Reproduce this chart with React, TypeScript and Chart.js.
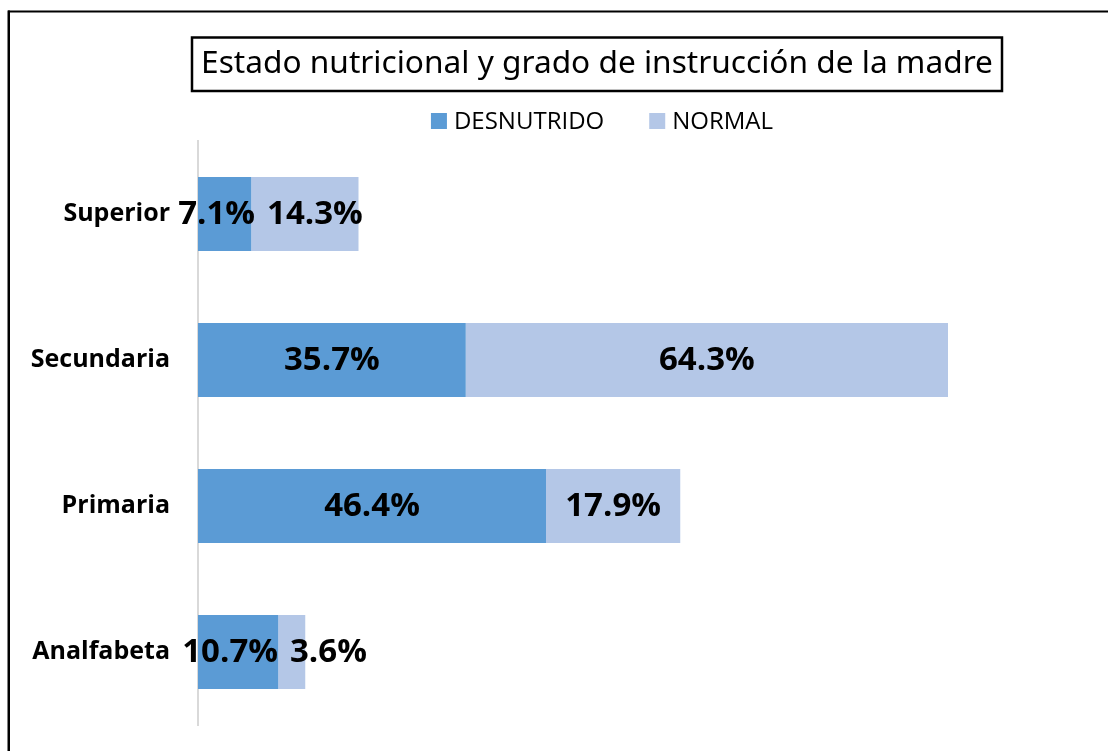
import React, { useEffect, useRef } from "react";
import { Chart, registerables } from "chart.js";

Chart.register(...registerables);

const TITLE = "Estado nutricional y grado de instrucción de la madre";
const CATEGORIES = ["Superior", "Secundaria", "Primaria", "Analfabeta"];
const SERIES_NAMES = ["DESNUTRIDO", "NORMAL"];
const DESNUTRIDO = [7.1, 35.7, 46.4, 10.7];
const NORMAL = [14.3, 64.3, 17.9, 3.6];
const COLORS = ["#5B9BD5", "#B4C7E7"];

const W = 1108;
const H = 751;

const fmt = (v: number) => `${v.toFixed(1)}%`;

const decorPlugin = {
  id: "decor",
  afterDraw(chart: any) {
    const ctx = chart.ctx as CanvasRenderingContext2D;
    ctx.save();
    // outer frame (only left and top edges visible)
    ctx.fillStyle = "#000";
    ctx.fillRect(8, 10.5, W - 8, 2);
    ctx.fillRect(7.5, 10.5, 2.5, H - 10.5);

    // title box
    let size = 30;
    ctx.font = `${size}px "Noto Sans"`;
    const tw = ctx.measureText(TITLE).width;
    size = (size * 792) / tw;
    ctx.font = `${size}px "Noto Sans"`;
    ctx.textAlign = "center";
    ctx.textBaseline = "middle";
    ctx.fillStyle = "#000";
    ctx.fillText(TITLE, 597, 64);
    ctx.lineWidth = 2.5;
    ctx.strokeStyle = "#000";
    ctx.strokeRect(192, 37.5, 810, 53.5);

    // legend
    ctx.font = `24px "Open Sans"`;
    const w1 = ctx.measureText(SERIES_NAMES[0]).width;
    const w2 = ctx.measureText(SERIES_NAMES[1]).width;
    const box = 16;
    const gapText = 7;
    const gapItem = 45;
    const total = box + gapText + w1 + gapItem + box + gapText + w2;
    let x = 602 - total / 2;
    const yc = 121;
    ctx.textAlign = "left";
    ctx.textBaseline = "middle";
    [w1, w2].forEach((w, i) => {
      ctx.fillStyle = COLORS[i];
      ctx.fillRect(x, yc - box / 2, box, box);
      ctx.fillStyle = "#000";
      ctx.fillText(SERIES_NAMES[i], x + box + gapText, yc + 1);
      x += box + gapText + w + gapItem;
    });
    ctx.restore();
  },
  afterDatasetsDraw(chart: any) {
    const ctx = chart.ctx as CanvasRenderingContext2D;
    const m0 = chart.getDatasetMeta(0);
    const m1 = chart.getDatasetMeta(1);
    ctx.save();
    ctx.font = `bold 33px "Open Sans"`;
    ctx.fillStyle = "#000";
    ctx.textAlign = "center";
    ctx.textBaseline = "middle";
    CATEGORIES.forEach((_, i) => {
      const a = m0.data[i];
      const b = m1.data[i];
      const t0 = fmt(DESNUTRIDO[i]);
      const t1 = fmt(NORMAL[i]);
      const w0 = ctx.measureText(t0).width;
      const w1 = ctx.measureText(t1).width;
      let c0 = (a.x + a.base) / 2;
      let c1 = (b.x + b.base) / 2;
      const gap = 12;
      const need = c0 + w0 / 2 + gap - (c1 - w1 / 2);
      if (need > 0) {
        const s0 = Math.min(8, need / 2);
        c0 -= s0;
        c1 += need - s0;
      }
      ctx.fillText(t0, c0, a.y + 1);
      ctx.fillText(t1, c1, b.y + 1);
    });
    ctx.restore();
  },
};

export default function App() {
  const ref = useRef<HTMLCanvasElement | null>(null);

  useEffect(() => {
    if (!ref.current) return;
    const chart = new Chart(ref.current, {
      type: "bar",
      data: {
        labels: CATEGORIES,
        datasets: [
          {
            label: SERIES_NAMES[0],
            data: DESNUTRIDO,
            backgroundColor: COLORS[0],
            barPercentage: 0.507,
            categoryPercentage: 1,
          },
          {
            label: SERIES_NAMES[1],
            data: NORMAL,
            backgroundColor: COLORS[1],
            barPercentage: 0.507,
            categoryPercentage: 1,
          },
        ],
      },
      options: {
        indexAxis: "y",
        responsive: false,
        animation: false,
        layout: { padding: { top: 141, right: 160, bottom: 26, left: 0 } },
        plugins: {
          legend: { display: false },
          title: { display: false },
          tooltip: { enabled: false },
        },
        scales: {
          x: { stacked: true, min: 0, max: 100, display: false },
          y: {
            stacked: true,
            grid: { display: false, drawTicks: true, tickLength: 28 },
            border: { display: true, color: "#D9D9D9", width: 2 },
            ticks: {
              color: "#000",
              padding: 0,
              font: { family: '"Open Sans"', size: 25, weight: "bold" },
            },
            afterFit: (s: any) => {
              s.width = 198;
            },
          },
        },
      },
      plugins: [decorPlugin],
    } as any);
    return () => chart.destroy();
  }, []);

  return (
    <div style={{ position: "fixed", left: 0, top: 0, width: W, height: H, background: "#fff" }}>
      <canvas ref={ref} width={W} height={H} style={{ width: W, height: H, display: "block" }} />
    </div>
  );
}
